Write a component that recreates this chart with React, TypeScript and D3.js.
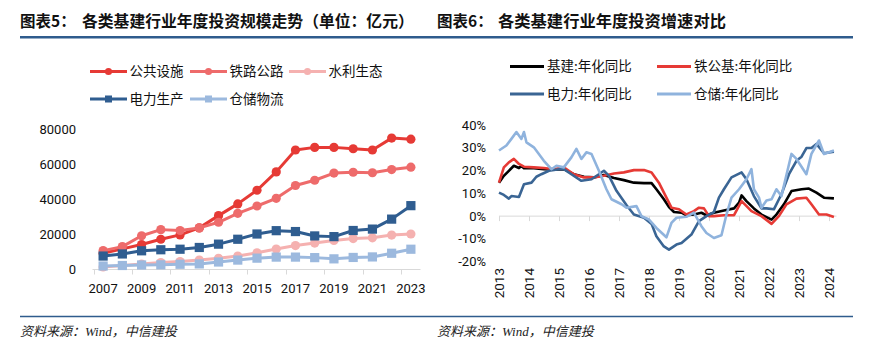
import React from 'react';
import * as d3 from 'd3';

// ---------- Left chart data (亿元) ----------
const years = ['2007','2008','2009','2010','2011','2012','2013','2014','2015','2016','2017','2018','2019','2020','2021','2022','2023'];
const yearTicks = ['2007','2009','2011','2013','2015','2017','2019','2021','2023'];
const publicFacilities = [9000, 11500, 14000, 17000, 19500, 23500, 30500, 37200, 45000, 55500, 68000, 69500, 69500, 68700, 68000, 74800, 74200];
const railRoad = [10500, 12800, 19000, 22500, 22000, 23500, 26700, 31800, 36000, 40400, 47700, 50700, 54800, 55300, 55000, 56800, 58200];
const waterEco = [1200, 2000, 2800, 3700, 4300, 5100, 6100, 7400, 9300, 11400, 13400, 14800, 16300, 17400, 17800, 19400, 20000];
const power = [7400, 8600, 10400, 11000, 11300, 12300, 14200, 17000, 20000, 21900, 21400, 18900, 18500, 22000, 22800, 28500, 36200];
const storage = [1700, 2000, 2300, 2400, 2700, 2900, 4000, 5100, 6200, 6800, 6800, 6500, 5800, 6600, 6900, 9000, 11300];
const leftYTicks = [0, 20000, 40000, 60000, 80000];

// ---------- Right chart data (%) ----------
const jjDates = ['2013-01','2013-03','2013-05','2013-07','2013-09','2013-10','2013-11','2014-03','2014-07','2014-11','2015-03','2015-07','2015-11','2016-03','2016-07','2016-11','2017-03','2017-07','2017-11','2018-02','2018-04','2018-07','2018-09','2018-11','2019-02','2019-04','2019-07','2019-10','2019-12','2020-03','2020-07','2020-11','2021-01','2021-02','2021-04','2021-07','2021-10','2021-12','2022-02','2022-04','2022-07','2022-10','2023-02','2023-05','2023-08','2023-11','2024-03'];
const jjValues = [14.7,17.7,19.9,22.1,21.1,22,21,21,20.6,20.4,20.6,18.4,17.3,17,18.1,16.7,15.8,14.7,14.5,14.5,11.8,7.4,4,1.8,1.5,0.4,0.7,1.5,0.4,1.5,2.5,3.4,5.9,9.1,6.6,3.4,0.7,-0.4,-1.5,0.7,5.2,11,11.8,12.1,10.3,8.1,7.8];

const tgjDates = ['2013-01','2013-03','2013-05','2013-07','2013-09','2013-11','2014-03','2014-07','2014-11','2015-03','2015-07','2015-11','2016-03','2016-07','2016-11','2017-03','2017-07','2017-11','2018-02','2018-05','2018-08','2018-10','2019-01','2019-04','2019-07','2019-09','2019-11','2020-01','2020-03','2020-07','2020-11','2021-02','2021-06','2021-10','2022-02','2022-05','2022-08','2022-12','2023-04','2023-06','2023-09','2023-12','2024-03'];
const tgjValues = [14.7,21.4,23.6,25.1,22.9,21.7,21.4,21.1,20.6,21.4,18.4,17,17,17.7,18.7,19.2,20.2,20.2,19.2,14.7,8.1,3.7,3,0.7,2.2,3.7,3.4,0,0,0.4,0.4,6.6,2.2,0,-3.4,0,5.2,7.7,8.1,5.2,0.7,0.7,-0.4];

const dlDates = ['2013-01','2013-03','2013-05','2013-06','2013-09','2013-11','2014-02','2014-04','2014-06','2014-09','2015-01','2015-03','2015-06','2015-10','2016-02','2016-05','2016-07','2016-09','2016-12','2017-04','2017-07','2017-11','2018-02','2018-04','2018-07','2018-09','2018-12','2019-02','2019-06','2019-09','2019-12','2020-03','2020-05','2020-07','2020-10','2021-02','2021-04','2021-07','2021-10','2021-12','2022-03','2022-06','2022-09','2022-12','2023-02','2023-04','2023-06','2023-08','2023-11','2024-03'];
const dlValues = [10.3,9.3,7.7,8.8,8.4,14,14.7,17.3,18.4,19.9,20.6,20.6,18.4,15.5,16.2,18.4,19.9,17.7,11.1,4.9,0.7,-0.7,-3.4,-8.8,-13.3,-14.7,-12.5,-11.8,-8.1,-2.2,0,1.8,8.1,11.8,17,19.2,16.2,8.8,3.4,3.4,3,9.6,18.4,24.3,26.1,29.9,29.9,31.7,27.6,28.3];

const ccDates = ['2013-01','2013-04','2013-06','2013-08','2013-10','2013-11','2013-12','2014-03','2014-07','2014-10','2014-12','2015-03','2015-06','2015-08','2015-10','2015-12','2016-02','2016-05','2016-08','2016-10','2017-02','2017-04','2017-08','2017-10','2018-01','2018-04','2018-08','2018-10','2018-12','2019-04','2019-07','2019-10','2019-12','2020-03','2020-06','2020-08','2020-10','2021-01','2021-04','2021-06','2021-07','2021-09','2021-10','2021-12','2022-02','2022-04','2022-06','2022-10','2022-12','2023-04','2023-06','2023-09','2023-11','2024-03'];
const ccValues = [28.8,31,33.9,36.9,33.9,36.9,32.4,30.2,24.3,20.6,22.1,21.4,25.8,29.5,25.1,28,27.3,19.9,11.8,7.4,5.2,3.7,4.4,0,-1.5,-5.2,-9.3,-3,-0.7,-0.3,1.5,-4.4,-7.4,-9.6,-8.4,0.7,8.1,11.8,16.2,20.6,11.8,8.1,3.7,6.9,7.4,11.8,8.8,27.3,25.1,18.4,27.3,33.2,27.3,28.8];

const rightYTicks = [-20, -10, 0, 10, 20, 30, 40];
const rightYearTicks = ['2013','2014','2015','2016','2017','2018','2019','2020','2021','2022','2023','2024'];

const C = {
  red: '#E63A35',
  red2: '#EE6B6B',
  pink: '#F5B1B0',
  navy: '#2F5D90',
  lightBlue: '#9CB9DE',
  black: '#000000',
  rRed: '#E63A35',
  rNavy: '#3A6594',
  rLight: '#8FB3DD',
  axis: '#D9D9D9',
  rule: '#2F5C8D',
};

const numFont = 'Roboto, "Noto Sans", sans-serif';
const cjkFont = '"Noto Sans CJK SC", "Noto Sans", sans-serif';

export default function App() {
  // Left scales
  const xL = d3.scaleBand<string>().domain(years).range([93.5, 420.5]);
  const yL = d3.scaleLinear().domain([0, 80000]).range([269, 129]);
  const lineL = (vals: number[]) =>
    d3.line<number>().x((_, i) => (xL(years[i]) as number) + xL.bandwidth() / 2).y((v) => yL(v))(vals) as string;

  const leftSeries = [
    { name: '公共设施', vals: publicFacilities, color: C.red, shape: 'circle' },
    { name: '铁路公路', vals: railRoad, color: C.red2, shape: 'circle' },
    { name: '水利生态', vals: waterEco, color: C.pink, shape: 'circle' },
    { name: '电力生产', vals: power, color: C.navy, shape: 'square' },
    { name: '仓储物流', vals: storage, color: C.lightBlue, shape: 'square' },
  ];
  const leftLegendPos = [
    [90, 71.5], [190, 71.5], [289, 71.5], [90, 99], [190, 99],
  ];

  // Right scales
  const parse = d3.timeParse('%Y-%m');
  const xR = d3.scaleTime().domain([parse('2013-01') as Date, parse('2024-01') as Date]).range([499, 829]);
  const yR = d3.scaleLinear().domain([-20, 40]).range([261.7, 125]);
  const lineR = (dates: string[], vals: number[]) =>
    d3.line<number>().x((_, i) => xR(parse(dates[i]) as Date)).y((v) => yR(v)).curve(d3.curveLinear)(vals) as string;

  const rightSeries = [
    { name: '基建:年化同比', dates: jjDates, vals: jjValues, color: C.black },
    { name: '铁公基:年化同比', dates: tgjDates, vals: tgjValues, color: C.rRed },
    { name: '电力:年化同比', dates: dlDates, vals: dlValues, color: C.rNavy },
    { name: '仓储:年化同比', dates: ccDates, vals: ccValues, color: C.rLight },
  ];
  const rightLegendPos = [
    [510, 66.5], [657, 66.5], [510, 94], [657, 94],
  ];

  const xEnd = xR(parse('2024-04') as Date);

  return (
    <svg width={878} height={358} style={{ position: 'absolute', left: 0, top: 0, background: '#fff' }}>
      <rect x={0} y={0} width={878} height={358} fill="#fff" />
      {/* Titles */}
      <text x={20} y={27} fontFamily={cjkFont} fontWeight={700} fontSize={15.5} fill="#111">图表5：</text>
      <text x={82} y={27} fontFamily={cjkFont} fontWeight={700} fontSize={15.8} fill="#111">各类基建行业年度投资规模走势（单位：亿元）</text>
      <text x={437} y={27} fontFamily={cjkFont} fontWeight={700} fontSize={15.5} fill="#111">图表6：</text>
      <text x={498} y={27} fontFamily={cjkFont} fontWeight={700} fontSize={16.3} fill="#111">各类基建行业年度投资增速对比</text>
      <line x1={20} x2={853} y1={37.3} y2={37.3} stroke={C.rule} strokeWidth={2.4} />

      {/* ---------- Left chart ---------- */}
      {leftYTicks.map((t) => (
        <text key={t} x={76} y={yL(t)} dy="0.35em" textAnchor="end" fontFamily={numFont} fontSize={13} fill="#111">{t}</text>
      ))}
      <line x1={92.5} x2={420.5} y1={269.5} y2={269.5} stroke={C.axis} strokeWidth={1} />
      {d3.range(0, 17, 2).map((i) => {
        const x = Math.round(93.5 + i * xL.step()) + 0.5;
        return <line key={i} x1={x} x2={x} y1={269.5} y2={274.5} stroke={C.axis} strokeWidth={1} />;
      })}
      {yearTicks.map((y) => (
        <text key={y} x={(xL(y) as number) + xL.bandwidth() / 2} y={293} textAnchor="middle" fontFamily={numFont} fontSize={13} fill="#111">{y}</text>
      ))}
      {leftSeries.map((s) => (
        <g key={s.name}>
          <path d={lineL(s.vals)} fill="none" stroke={s.color} strokeWidth={3} strokeLinejoin="round" />
          {s.vals.map((v, i) => {
            const cx = (xL(years[i]) as number) + xL.bandwidth() / 2;
            const cy = yL(v);
            return s.shape === 'circle'
              ? <circle key={i} cx={cx} cy={cy} r={4.6} fill={s.color} />
              : <rect key={i} x={cx - 4.6} y={cy - 4.6} width={9.2} height={9.2} fill={s.color} />;
          })}
        </g>
      ))}
      {leftSeries.map((s, i) => {
        const [lx, ly] = leftLegendPos[i];
        return (
          <g key={s.name}>
            <line x1={lx} x2={lx + 37} y1={ly} y2={ly} stroke={s.color} strokeWidth={3} />
            {s.shape === 'circle'
              ? <circle cx={lx + 18.5} cy={ly} r={3.6} fill={s.color} />
              : <rect x={lx + 15} y={ly - 3.5} width={7} height={7} fill={s.color} />}
            <text x={lx + 39.5} y={ly} dy="0.36em" fontFamily={cjkFont} fontSize={13.5} fill="#111">{s.name}</text>
          </g>
        );
      })}

      {/* ---------- Right chart ---------- */}
      {rightYTicks.map((t) => (
        <text key={t} x={486} y={yR(t)} dy="0.35em" textAnchor="end" fontFamily={numFont} fontSize={13} fill="#111">{t}%</text>
      ))}
      <line x1={499} x2={xEnd} y1={yR(0)} y2={yR(0)} stroke={C.axis} strokeWidth={1} />
      {rightYearTicks.map((y) => {
        const x = Math.round(xR(parse(y + '-01') as Date)) + 0.5;
        return (
          <g key={y}>
            <line x1={x} x2={x} y1={yR(0)} y2={yR(0) + 5} stroke={C.axis} strokeWidth={1} />
            <text transform={`translate(${x + 4.5},268) rotate(-90)`} textAnchor="end" fontFamily={numFont} fontSize={13.5} fill="#111">{y}</text>
          </g>
        );
      })}
      {rightSeries.map((s) => (
        <path key={s.name} d={lineR(s.dates, s.vals)} fill="none" stroke={s.color} strokeWidth={2.6} strokeLinejoin="round" />
      ))}
      {rightSeries.map((s, i) => {
        const [lx, ly] = rightLegendPos[i];
        return (
          <g key={s.name}>
            <line x1={lx} x2={lx + 34} y1={ly} y2={ly} stroke={s.color} strokeWidth={3} />
            <text x={lx + 37} y={ly} dy="0.36em" fontFamily={cjkFont} fontSize={13.5} fill="#111">{s.name}</text>
          </g>
        );
      })}

      {/* Footer */}
      <line x1={20} x2={853} y1={316.5} y2={316.5} stroke={C.rule} strokeWidth={1.6} />
      <text x={20} y={336} fontFamily={'"Liberation Serif", "Noto Sans CJK SC", serif'} fontStyle="italic" fontSize={13} fill="#222">资料来源：Wind，中信建投</text>
      <text x={437} y={336} fontFamily={'"Liberation Serif", "Noto Sans CJK SC", serif'} fontStyle="italic" fontSize={13} fill="#222">资料来源：Wind，中信建投</text>
    </svg>
  );
}
